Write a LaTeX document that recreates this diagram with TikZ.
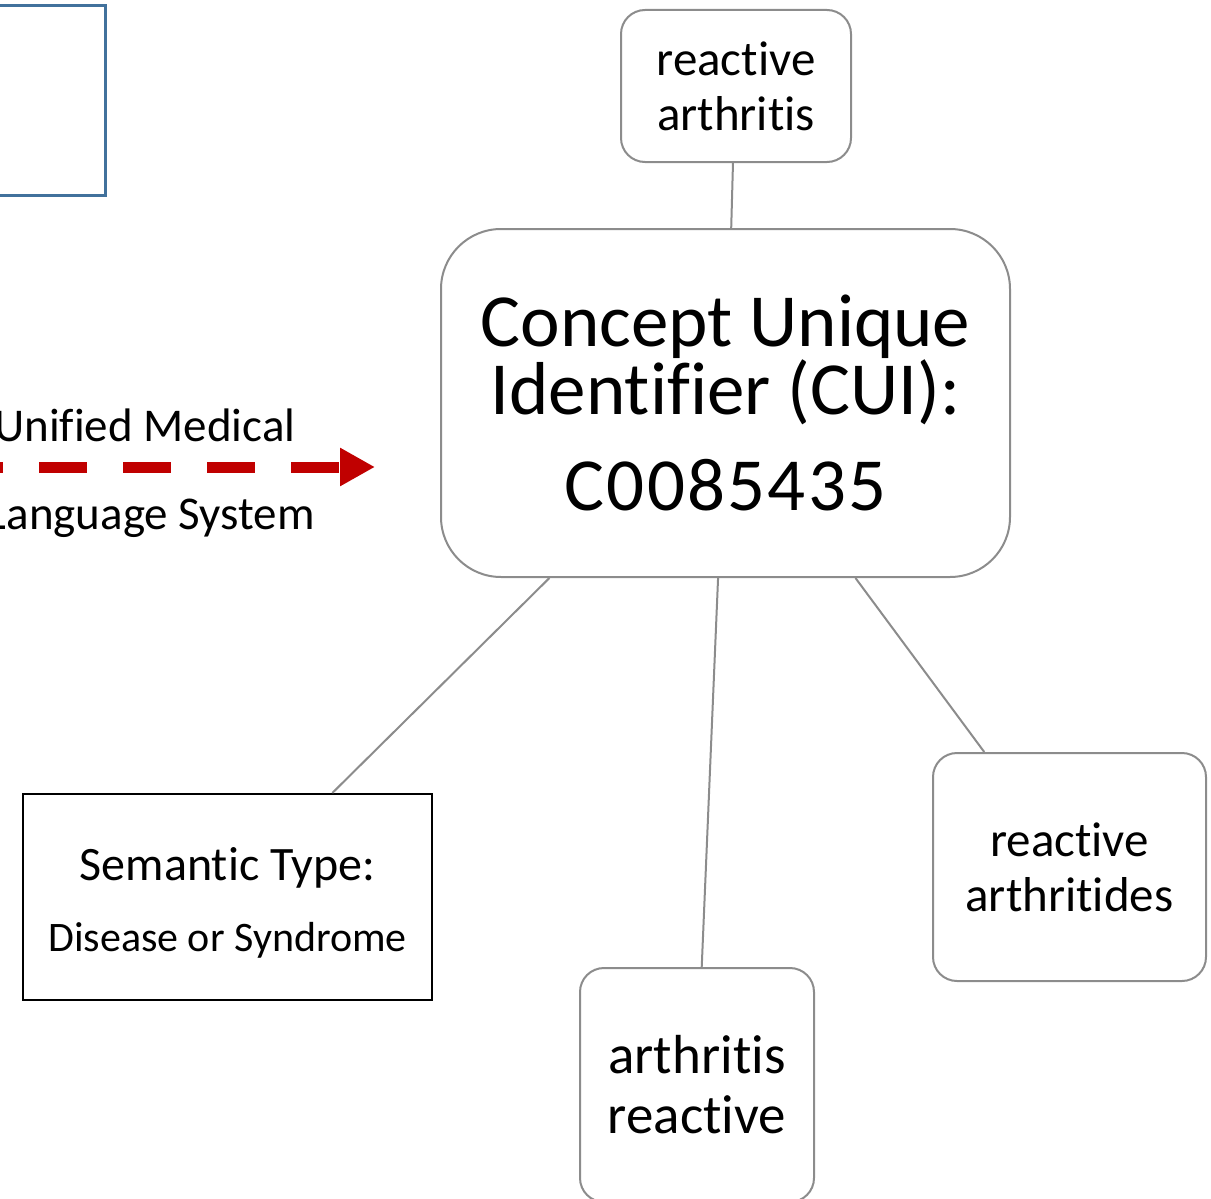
\documentclass[tikz,border=0pt]{standalone}
\usepackage{fontspec}
\setmainfont[Ligatures=NoCommon]{Carlito}
\usetikzlibrary{calc,arrows.meta}
\definecolor{nodegray}{HTML}{8C8C8C}
\definecolor{umlsred}{HTML}{C00000}
\definecolor{boxblue}{HTML}{41719C}
\begin{document}
\begin{tikzpicture}[x=1pt,y=-1pt,
  term/.style={draw=nodegray, line width=2pt, rounded corners=24pt, fill=white,
    align=center, inner sep=0pt, font=\fontsize{49}{55}\selectfont},
  link/.style={draw=nodegray, line width=2pt},
  lbl/.style={inner sep=0pt, font=\fontsize{47}{50}\selectfont}]
\useasboundingbox (0,0) rectangle (1211,1199);
\clip (0,0) rectangle (1211,1199);

% partially visible source box
\node[draw=boxblue, line width=3pt, minimum width=165pt, minimum height=189pt, inner sep=0pt] (src) at (22.5,100.5) {};

% central concept
\node[draw=nodegray, line width=2pt, rounded corners=60pt, fill=white, align=center, inner sep=0pt,
  minimum width=569pt, minimum height=348pt,
  font=\fontsize{75}{66}\selectfont] (cui) at (725.5,403)
  {\raisebox{4pt}{Concept Unique}\\\raisebox{4pt}{Identifier (CUI):}\\[26pt]{\addfontfeature{LetterSpace=3}C0085435}};

\node[term, minimum width=230pt, minimum height=152pt] (top) at (736,86) {reactive\\arthritis};
\node[term, minimum width=273pt, minimum height=228pt] (right) at (1069.5,867) {reactive\\arthritides};
\node[term, minimum width=234pt, minimum height=234pt, font=\fontsize{55}{60}\selectfont] (bottom) at (697,1085) {arthritis\\reactive};

\node[draw=black, line width=2pt, fill=white, align=center, inner sep=0pt,
  minimum width=409pt, minimum height=206pt] (sem) at (227.5,897)
  {\fontsize{48}{58}\selectfont\raisebox{0pt}[\dimexpr\height+12pt\relax]{Semantic Type:}\\[33pt]\fontsize{42}{48}\selectfont Disease or Syndrome};

% connectors
\draw[link] ($(top.south west)!0.487!(top.south east)$) -- ($(cui.north west)!0.51!(cui.north east)$);
\draw[link] ($(cui.south west)!0.1916!(cui.south east)$) -- ($(sem.north west)!0.755!(sem.north east)$);
\draw[link] ($(cui.south west)!0.487!(cui.south east)$) -- ($(bottom.north west)!0.52!(bottom.north east)$);
\draw[link] ($(cui.south west)!0.7276!(cui.south east)$) -- ($(right.north west)!0.19!(right.north east)$);

% UMLS arrow
\coordinate (astart) at (-45,467);
\coordinate (aend) at (375,467);
\draw[umlsred, line width=11pt, dash pattern=on 48pt off 36pt,
  -{Triangle[length=35pt,width=36pt]}] (astart) -- (aend);
\node[lbl, anchor=base west] (umls1) at (-6,441) {Unified Medical};
\node[lbl, anchor=base east] (umls2) at (315,529) {Language System};
\end{tikzpicture}
\end{document}
